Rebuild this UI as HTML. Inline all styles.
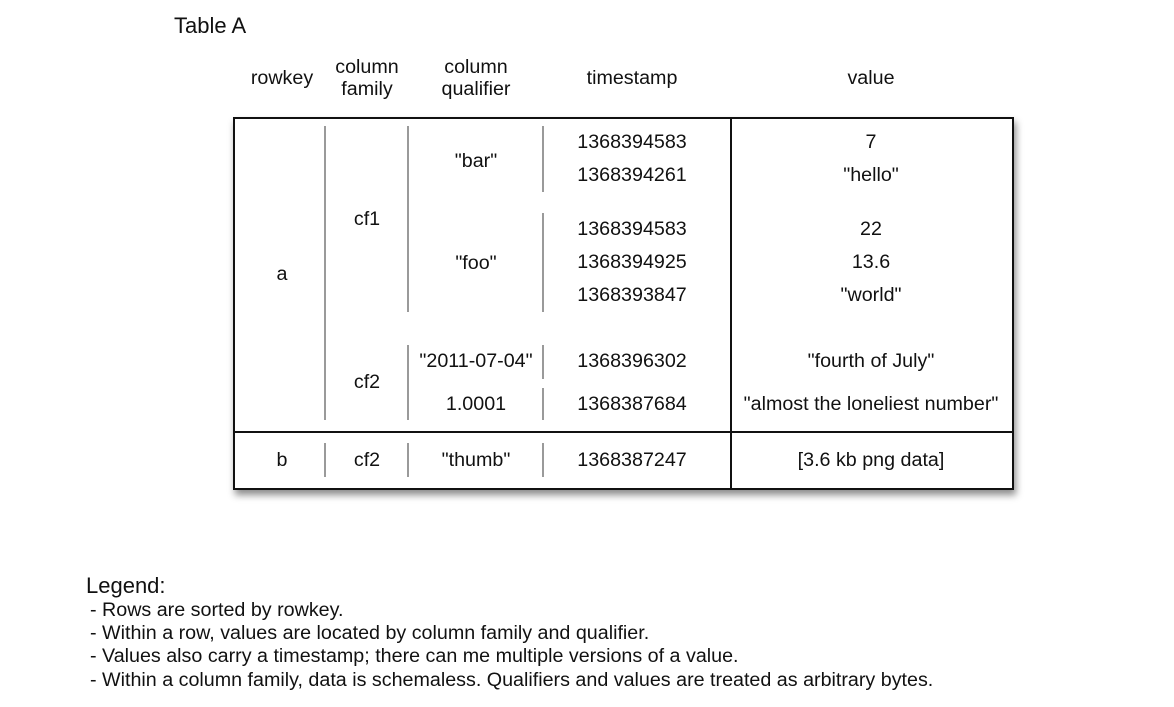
<!DOCTYPE html>
<html><head><meta charset="utf-8"><style>
body{margin:0;width:1174px;height:707px;background:#fff;position:relative;overflow:hidden;font-family:"Liberation Sans",Arial,sans-serif;color:#111}
.t{position:absolute;transform:translate(-50%,-50%);font-size:19.7px;white-space:nowrap;text-align:center;line-height:22px}
.v{position:absolute;width:2px;background:#9a9a9a}
#box{position:absolute;left:233px;top:117px;width:777px;height:369px;border:2px solid #111;box-shadow:2px 5px 7px rgba(0,0,0,.45);box-sizing:content-box}
.l{position:absolute;left:90px;font-size:19.7px;white-space:nowrap}
</style></head><body>
<div style="position:absolute;left:174px;top:13px;font-size:22px">Table A</div>
<div class="t" style="left:282px;top:78px">rowkey</div>
<div class="t" style="left:367px;top:78px">column<br>family</div>
<div class="t" style="left:476px;top:78px">column<br>qualifier</div>
<div class="t" style="left:632px;top:78px">timestamp</div>
<div class="t" style="left:871px;top:78px">value</div>
<div id="box"></div>
<div style="position:absolute;left:233px;top:431px;width:779px;height:2px;background:#111"></div>
<div style="position:absolute;left:730px;top:117px;width:2px;height:371px;background:#111"></div>
<div class="v" style="left:324px;top:126px;height:294px"></div>
<div class="v" style="left:407px;top:126px;height:186px"></div>
<div class="v" style="left:407px;top:345px;height:75px"></div>
<div class="v" style="left:542px;top:126px;height:66px"></div>
<div class="v" style="left:542px;top:213px;height:99px"></div>
<div class="v" style="left:542px;top:345px;height:34px"></div>
<div class="v" style="left:542px;top:388px;height:32px"></div>
<div class="v" style="left:324px;top:443px;height:34px"></div>
<div class="v" style="left:407px;top:443px;height:34px"></div>
<div class="v" style="left:542px;top:443px;height:34px"></div>
<div class="t" style="left:282px;top:274px">a</div>
<div class="t" style="left:367px;top:219px">cf1</div>
<div class="t" style="left:367px;top:382px">cf2</div>
<div class="t" style="left:476px;top:161px">"bar"</div>
<div class="t" style="left:476px;top:263px">"foo"</div>
<div class="t" style="left:476px;top:361px">"2011-07-04"</div>
<div class="t" style="left:476px;top:404px">1.0001</div>
<div class="t" style="left:632px;top:142px">1368394583</div>
<div class="t" style="left:632px;top:175px">1368394261</div>
<div class="t" style="left:632px;top:229px">1368394583</div>
<div class="t" style="left:632px;top:262px">1368394925</div>
<div class="t" style="left:632px;top:295px">1368393847</div>
<div class="t" style="left:632px;top:361px">1368396302</div>
<div class="t" style="left:632px;top:404px">1368387684</div>
<div class="t" style="left:871px;top:142px">7</div>
<div class="t" style="left:871px;top:175px">"hello"</div>
<div class="t" style="left:871px;top:229px">22</div>
<div class="t" style="left:871px;top:262px">13.6</div>
<div class="t" style="left:871px;top:295px">"world"</div>
<div class="t" style="left:871px;top:361px">"fourth of July"</div>
<div class="t" style="left:871px;top:404px">"almost the loneliest number"</div>
<div class="t" style="left:282px;top:460px">b</div>
<div class="t" style="left:367px;top:460px">cf2</div>
<div class="t" style="left:476px;top:460px">"thumb"</div>
<div class="t" style="left:632px;top:460px">1368387247</div>
<div class="t" style="left:871px;top:460px">[3.6 kb png data]</div>
<div style="position:absolute;left:86px;top:573px;font-size:22px">Legend:</div>
<div class="l" style="top:599px">- Rows are sorted by rowkey.</div>
<div class="l" style="top:622px">- Within a row, values are located by column family and qualifier.</div>
<div class="l" style="top:645px">- Values also carry a timestamp; there can me multiple versions of a value.</div>
<div class="l" style="top:669px">- Within a column family, data is schemaless. Qualifiers and values are treated as arbitrary bytes.</div>
</body></html>
